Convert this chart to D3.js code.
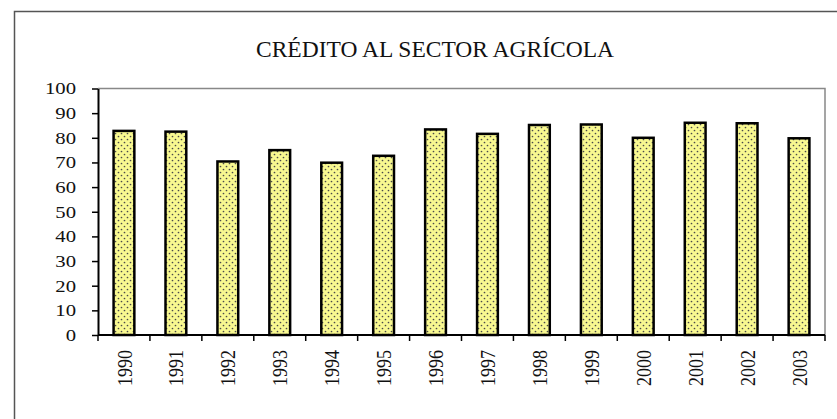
<!DOCTYPE html>
<html><head><meta charset="utf-8">
<script src="https://cdn.jsdelivr.net/npm/d3@7"></script>
<style>html,body{margin:0;padding:0;background:#fff;}svg{display:block;}</style>
</head><body>
<svg id="chart" width="837" height="419"></svg>
<script>
const years = ["1990","1991","1992","1993","1994","1995","1996","1997","1998","1999","2000","2001","2002","2003"];
const values = [82.8, 82.5, 70.4, 75.0, 69.9, 72.7, 83.4, 81.6, 85.2, 85.4, 80.0, 86.1, 85.9, 79.8];
const yTicks = [0,10,20,30,40,50,60,70,80,90,100];
const title = "CRÉDITO AL SECTOR AGRÍCOLA";

const svg = d3.select("#chart");
const font = "\"Liberation Serif\"";

// outer frame
svg.append("rect").attr("x",14.5).attr("y",11.5).attr("width",840).attr("height",430)
  .attr("fill","none").attr("stroke","#555").attr("stroke-width",1.5);

// pattern
const defs = svg.append("defs");
const pat = defs.append("pattern").attr("id","dots").attr("patternUnits","userSpaceOnUse")
  .attr("width",6).attr("height",6);
pat.append("rect").attr("width",6).attr("height",6).attr("fill","#f8f890");
pat.append("circle").attr("cx",1.5).attr("cy",1.5).attr("r",0.85).attr("fill","#4a4a4a");
pat.append("circle").attr("cx",4.5).attr("cy",4.5).attr("r",0.85).attr("fill","#4a4a4a");

const L = 98, R = 825, T = 88.5, B = 335;
const y = d3.scaleLinear().domain([0,100]).range([B,T]);
const x = d3.scaleBand().domain(years).range([L,R]).paddingInner(0.6).paddingOuter(0.3);
const xEdge = d3.scaleBand().domain(years).range([L,R]).padding(0);

// title
svg.append("text").attr("x",435).attr("y",57).attr("text-anchor","middle")
  .style("font-family",font).style("font-size","23.5px").attr("fill","#111").text(title);

// plot area border (top, right)
svg.append("path").attr("d",`M${L},${T}H${R}V${B}`).attr("fill","none")
  .attr("stroke","#888").attr("stroke-width",1.5);

// bars
svg.append("g").selectAll("rect").data(years).join("rect")
  .attr("x",d=>x(d)).attr("width",x.bandwidth())
  .attr("y",(d,i)=>y(values[i])).attr("height",(d,i)=>B-y(values[i]))
  .attr("fill","url(#dots)").attr("stroke","#000").attr("stroke-width",2.5);

// y axis
const yAxis = svg.append("g").attr("transform",`translate(${L},0)`)
  .call(d3.axisLeft(y).tickValues(yTicks).tickSize(6).tickPadding(16).tickSizeOuter(0));
yAxis.select(".domain").attr("stroke","#000").attr("stroke-width",2);
yAxis.selectAll(".tick line").attr("stroke","#000").attr("stroke-width",1.5);
yAxis.selectAll("text").style("font-family",font).style("font-size","17px").attr("fill","#111")
  .attr("x",-22/1.22).attr("transform","scale(1.22,1)");

// x axis
const xAxis = svg.append("g").attr("transform",`translate(0,${B})`)
  .call(d3.axisBottom(x).tickSize(0).tickSizeOuter(0));
xAxis.select(".domain").attr("stroke","#000").attr("stroke-width",2).attr("d",`M${L},0H${R}`);
xAxis.selectAll(".tick text")
  .style("font-family",font).style("font-size","18px").attr("fill","#111")
  .attr("transform","scale(1.2,1) rotate(-90)").attr("text-anchor","end")
  .attr("x",-15).attr("y",0).attr("dy","0.35em");
const edges = years.map(d=>xEdge(d)).concat([R]);
svg.append("g").selectAll("line").data(edges).join("line")
  .attr("x1",d=>d).attr("x2",d=>d).attr("y1",B).attr("y2",B+6)
  .attr("stroke","#000").attr("stroke-width",1.5);
</script>
</body></html>
